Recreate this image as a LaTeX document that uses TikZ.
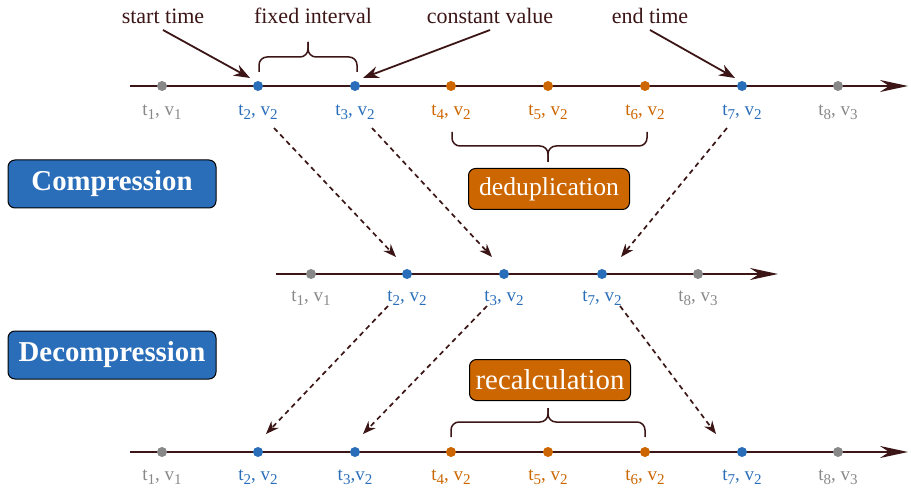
\documentclass[tikz,border=0pt]{standalone}
\usepackage{fontspec}
\setmainfont{Liberation Serif}
\usetikzlibrary{arrows.meta}
\definecolor{dark}{RGB}{60,22,22}
\definecolor{myblue}{RGB}{42,110,185}
\definecolor{myorange}{RGB}{204,102,0}
\definecolor{mygray}{RGB}{136,136,136}
\newcommand\sbx[1]{\raisebox{-0.45ex}{\fontsize{15}{15}\selectfont #1}}
\begin{document}
\begin{tikzpicture}[x=1pt,y=-1pt,
  axis/.style={draw=dark,line width=1.8pt,-{Stealth[length=28pt,width=12pt]}},
  dot/.style={circle,inner sep=0pt,minimum size=10pt},
  lab/.style={font=\fontsize{19}{22}\selectfont,inner sep=0pt},
  note/.style={font=\fontsize{22}{26}\selectfont,text=dark,inner sep=0pt},
  pointer/.style={draw=dark,line width=1.8pt,-{Stealth[length=16pt,width=12pt]}},
  dasharrow/.style={draw=dark,line width=1.7pt,dash pattern=on 5pt off 4pt,-{Stealth[length=13pt,width=10pt]}},
  bluebox/.style={draw=black,line width=1pt,fill=myblue,rounded corners=7pt,minimum width=208pt,minimum height=48pt,text=white,font=\fontsize{28.8}{32}\selectfont\bfseries},
  orangebox/.style={draw=black,line width=1pt,fill=myorange,rounded corners=7pt,minimum width=161pt,minimum height=41pt,text=white},
  brc/.style={draw=dark,line width=1.5pt,rounded corners=8pt}
]
\useasboundingbox (0,0) rectangle (911,492);

% top axis
\coordinate (ts) at (130,86);
\coordinate (te) at (908,86);
\draw[axis] (ts) -- (te);
% middle axis
\coordinate (ms) at (276,274);
\coordinate (me) at (778,274);
\draw[axis] (ms) -- (me);
% bottom axis
\coordinate (bs) at (130,452);
\coordinate (be) at (908,452);
\draw[axis] (bs) -- (be);

% top dots
\foreach \i/\x/\c in {1/162/mygray,2/258/myblue,3/355/myblue,4/451/myorange,5/548/myorange,6/645/myorange,7/742/myblue,8/838/mygray}{
  \node[dot,fill=\c] (a\i) at (\x,86) {};
}
\node[lab,text=mygray] (la1) at (162,112) {t\sbx{1}, v\sbx{1}};
\node[lab,text=myblue] (la2) at (258,112) {t\sbx{2}, v\sbx{2}};
\node[lab,text=myblue] (la3) at (355,112) {t\sbx{3}, v\sbx{2}};
\node[lab,text=myorange] (la4) at (451,112) {t\sbx{4}, v\sbx{2}};
\node[lab,text=myorange] (la5) at (548,112) {t\sbx{5}, v\sbx{2}};
\node[lab,text=myorange] (la6) at (645,112) {t\sbx{6}, v\sbx{2}};
\node[lab,text=myblue] (la7) at (742,112) {t\sbx{7}, v\sbx{2}};
\node[lab,text=mygray] (la8) at (838,112) {t\sbx{8}, v\sbx{3}};

% middle dots
\foreach \i/\x/\c in {1/311/mygray,2/407/myblue,3/504/myblue,7/602/myblue,8/698/mygray}{
  \node[dot,fill=\c] (m\i) at (\x,274) {};
}
\node[lab,text=mygray] (lm1) at (311,298) {t\sbx{1}, v\sbx{1}};
\node[lab,text=myblue] (lm2) at (407,298) {t\sbx{2}, v\sbx{2}};
\node[lab,text=myblue] (lm3) at (504,298) {t\sbx{3}, v\sbx{2}};
\node[lab,text=myblue] (lm7) at (602,298) {t\sbx{7}, v\sbx{2}};
\node[lab,text=mygray] (lm8) at (698,298) {t\sbx{8}, v\sbx{3}};

% bottom dots
\foreach \i/\x/\c in {1/162/mygray,2/258/myblue,3/355/myblue,4/451/myorange,5/548/myorange,6/645/myorange,7/742/myblue,8/838/mygray}{
  \node[dot,fill=\c] (b\i) at (\x,452) {};
}
\node[lab,text=mygray] (lb1) at (162,477) {t\sbx{1}, v\sbx{1}};
\node[lab,text=myblue] (lb2) at (258,477) {t\sbx{2}, v\sbx{2}};
\node[lab,text=myblue] (lb3) at (355,477) {t\sbx{3},v\sbx{2}};
\node[lab,text=myorange] (lb4) at (451,477) {t\sbx{4}, v\sbx{2}};
\node[lab,text=myorange] (lb5) at (548,477) {t\sbx{5}, v\sbx{2}};
\node[lab,text=myorange] (lb6) at (645,477) {t\sbx{6}, v\sbx{2}};
\node[lab,text=myblue] (lb7) at (742,477) {t\sbx{7}, v\sbx{2}};
\node[lab,text=mygray] (lb8) at (838,477) {t\sbx{8}, v\sbx{3}};

% annotations
\node[note] (start) at (163,16) {start time};
\node[note] (fixed) at (313,16) {fixed interval};
\node[note] (const) at (490,16) {constant value};
\node[note] (endt) at (650,16) {end time};

\coordinate (st0) at (163,30);
\coordinate (st1) at (250,78);
\draw[pointer] (st0) -- (st1);
\coordinate (cv0) at (490,30);
\coordinate (cv1) at (363,78);
\draw[pointer] (cv0) -- (cv1);
\coordinate (et0) at (650,30);
\coordinate (et1) at (735,78);
\draw[pointer] (et0) -- (et1);

% braces
\draw[brc] (259,72) -- (259,57) -- (308,57) -- (308,42);
\draw[brc] (308,42) -- (308,57) -- (357,57) -- (357,72);

\draw[brc] (452,132) -- (452,146) -- (548,146) -- (548,162);
\draw[brc] (548,162) -- (548,146) -- (647,146) -- (647,132);

\draw[brc] (451,437) -- (451,422) -- (548,422) -- (548,408);
\draw[brc] (548,408) -- (548,422) -- (645,422) -- (645,437);

% boxes
\node[bluebox] (comp) at (112,184) {Compression};
\node[bluebox] (decomp) at (112,355) {Decompression};
\node[orangebox,font=\fontsize{25.7}{30}\selectfont] (dedup) at (549,189) {deduplication};
\node[orangebox,font=\fontsize{28.8}{32}\selectfont] (recalc) at (550,380) {recalculation};

% dashed connectors
\coordinate (d1a) at (274,128); \coordinate (d1b) at (396,257);
\coordinate (d2a) at (372,128); \coordinate (d2b) at (492,257);
\coordinate (d3a) at (727,128); \coordinate (d3b) at (621,257);
\coordinate (d4a) at (388,306); \coordinate (d4b) at (266,434);
\coordinate (d5a) at (487,306); \coordinate (d5b) at (363,434);
\coordinate (d6a) at (620,306); \coordinate (d6b) at (716,434);
\draw[dasharrow] (d1a) -- (d1b);
\draw[dasharrow] (d2a) -- (d2b);
\draw[dasharrow] (d3a) -- (d3b);
\draw[dasharrow] (d4a) -- (d4b);
\draw[dasharrow] (d5a) -- (d5b);
\draw[dasharrow] (d6a) -- (d6b);
\end{tikzpicture}
\end{document}
